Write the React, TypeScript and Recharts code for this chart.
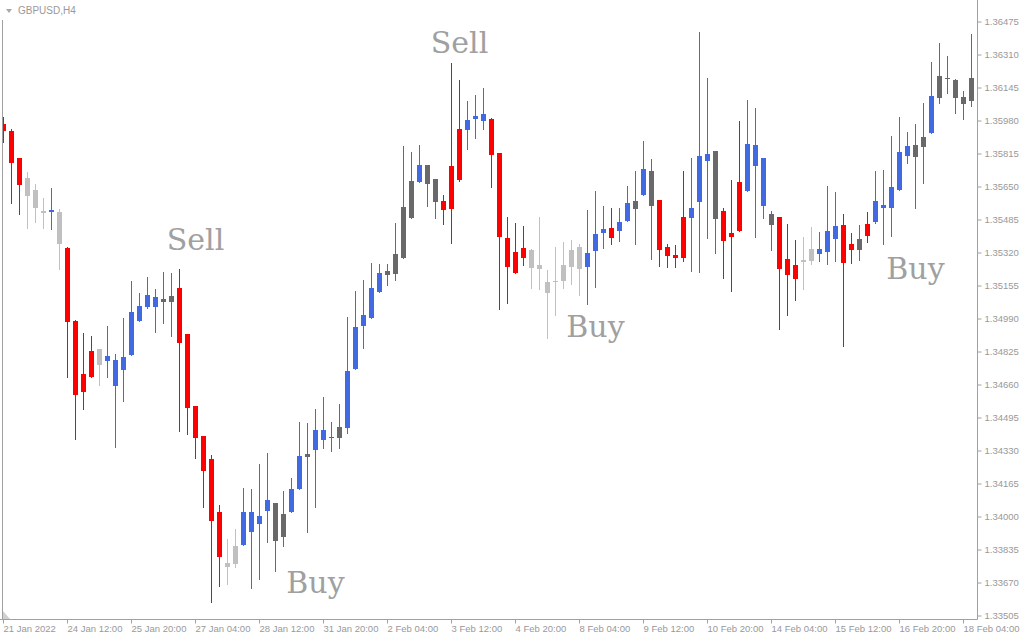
import React from 'react';
import { ComposedChart, Bar, XAxis, YAxis, ReferenceDot } from 'recharts';

// H4 candles, GBPUSD
const opens = [
  1.35965, 1.3593, 1.35795, 1.35695, 1.35635, 1.3553, 1.35525, 1.35525, 1.35345, 1.3498,
  1.34715, 1.3483, 1.3484, 1.3478, 1.34655, 1.34735, 1.3481, 1.3498, 1.3505, 1.3505,
  1.3509, 1.35105, 1.35145, 1.34915, 1.34555, 1.34405, 1.3429, 1.34025, 1.3377, 1.33855,
  1.3386, 1.33925, 1.33965, 1.3403, 1.3407, 1.34015, 1.34025, 1.3414, 1.34315, 1.34335,
  1.34385, 1.344, 1.3445, 1.34445, 1.3474, 1.34955, 1.34995, 1.35125, 1.3523, 1.35315,
  1.3555, 1.3568, 1.35675, 1.3576, 1.3569, 1.3558, 1.35755, 1.3594, 1.35935, 1.3599,
  1.3598, 1.3599, 1.3582, 1.35395, 1.35325, 1.35345, 1.35335, 1.3526, 1.35175, 1.3518,
  1.3526, 1.35335, 1.3535, 1.3525, 1.3533, 1.3542, 1.35445, 1.3543, 1.3548, 1.3558,
  1.3561, 1.3573, 1.35585, 1.3535, 1.3531, 1.355, 1.35495, 1.35575, 1.3578, 1.3583,
  1.3553, 1.3542, 1.35675, 1.3563, 1.35755, 1.35555, 1.35515, 1.355, 1.3529, 1.3526,
  1.35285, 1.3534, 1.35315, 1.35325, 1.3539, 1.3546, 1.35365, 1.3539, 1.35465, 1.35475,
  1.35545, 1.35545, 1.35635, 1.35805, 1.3586, 1.359, 1.3592, 1.36205, 1.36195, 1.36185,
  1.361, 1.36195,
];
const highs = [
  1.36, 1.3594, 1.35795, 1.35725, 1.35665, 1.35595, 1.35645, 1.3554, 1.3535, 1.34985,
  1.3492, 1.34905, 1.3484, 1.34955, 1.34815, 1.34995, 1.3518, 1.3512, 1.352, 1.3514,
  1.35225, 1.3522, 1.3524, 1.34915, 1.34555, 1.34405, 1.3431, 1.3406, 1.3389, 1.3394,
  1.34145, 1.3414, 1.34265, 1.3432, 1.3407, 1.3413, 1.34195, 1.34475, 1.3447, 1.3454,
  1.346, 1.34475, 1.34565, 1.35, 1.3513, 1.35185, 1.3527, 1.35265, 1.35265, 1.3547,
  1.35855, 1.35825, 1.3586, 1.3576, 1.3569, 1.3561, 1.3627, 1.36185, 1.3608, 1.3611,
  1.36145, 1.35995, 1.3582, 1.355, 1.3547, 1.35455, 1.3534, 1.355, 1.35235, 1.3535,
  1.35375, 1.35385, 1.35365, 1.35535, 1.3563, 1.35555, 1.35545, 1.35545, 1.35655, 1.3573,
  1.3588, 1.3579, 1.35585, 1.35365, 1.3536, 1.3573, 1.35795, 1.36425, 1.36195, 1.3583,
  1.35545, 1.35685, 1.3598, 1.36085, 1.36045, 1.35795, 1.3553, 1.355, 1.35465, 1.35385,
  1.354, 1.3545, 1.35425, 1.35655, 1.35625, 1.35515, 1.3542, 1.3546, 1.35525, 1.3573,
  1.35735, 1.35905, 1.36, 1.35925, 1.35965, 1.3607, 1.36275, 1.3637, 1.36305, 1.3619,
  1.3613, 1.36415,
];
const lows = [
  1.3587, 1.35565, 1.3551, 1.3544, 1.3547, 1.3544, 1.35435, 1.35235, 1.34695, 1.34385,
  1.34535, 1.34695, 1.34655, 1.34695, 1.34345, 1.34575, 1.34805, 1.34975, 1.3504, 1.3492,
  1.34965, 1.349, 1.34425, 1.3441, 1.3429, 1.34045, 1.3357, 1.3365, 1.3366, 1.33745,
  1.33855, 1.3364, 1.33685, 1.3387, 1.33725, 1.3385, 1.3402, 1.34135, 1.3392, 1.34045,
  1.3434, 1.34325, 1.3434, 1.34415, 1.34735, 1.3484, 1.3499, 1.3512, 1.35155, 1.3518,
  1.3529, 1.3549, 1.3567, 1.3555, 1.3549, 1.3546, 1.35365, 1.35675, 1.35835, 1.3589,
  1.35935, 1.35645, 1.35035, 1.35065, 1.35215, 1.35255, 1.3514, 1.35135, 1.3489, 1.35005,
  1.3514, 1.3516, 1.35105, 1.3506, 1.35145, 1.3534, 1.3536, 1.35375, 1.35475, 1.3536,
  1.35605, 1.35285, 1.3525, 1.35245, 1.35245, 1.35275, 1.35225, 1.3522, 1.3539, 1.35315,
  1.3519, 1.35125, 1.35425, 1.35625, 1.35395, 1.3549, 1.3533, 1.34935, 1.35005, 1.3508,
  1.35135, 1.3526, 1.35275, 1.3526, 1.35275, 1.3485, 1.35265, 1.3528, 1.3537, 1.35465,
  1.3536, 1.354, 1.3563, 1.35765, 1.3554, 1.35665, 1.35915, 1.36065, 1.36115, 1.36015,
  1.35985, 1.3605,
];
const closes = [
  1.3593, 1.3577, 1.3566, 1.35605, 1.35545, 1.3552, 1.35535, 1.35365, 1.34975, 1.3461,
  1.34625, 1.347, 1.3476, 1.34805, 1.34785, 1.348, 1.35025, 1.35055, 1.3511, 1.351,
  1.35075, 1.35075, 1.3487, 1.34545, 1.34395, 1.3423, 1.3398, 1.338, 1.3375, 1.33765,
  1.34025, 1.34025, 1.34005, 1.34085, 1.3388, 1.339, 1.3414, 1.34305, 1.343, 1.34435,
  1.34435, 1.34395, 1.34395, 1.3473, 1.3495, 1.3501, 1.35145, 1.3522, 1.3521, 1.35215,
  1.35295, 1.35495, 1.3576, 1.35665, 1.35575, 1.35535, 1.3554, 1.35685, 1.35985, 1.36005,
  1.36015, 1.3581, 1.354, 1.3525, 1.3522, 1.35295, 1.35245, 1.3524, 1.3512, 1.35175,
  1.3518, 1.3525, 1.3524, 1.3532, 1.35415, 1.3544, 1.35395, 1.35475, 1.3557, 1.3554,
  1.3574, 1.35555, 1.35335, 1.35305, 1.35295, 1.35295, 1.35545, 1.35805, 1.35815, 1.3549,
  1.3538, 1.354, 1.3543, 1.35865, 1.3586, 1.35795, 1.3546, 1.3524, 1.3521, 1.3519,
  1.35275, 1.3528, 1.3534, 1.3543, 1.35455, 1.3527, 1.35335, 1.35335, 1.35405, 1.3558,
  1.3556, 1.3565, 1.35825, 1.35855, 1.358, 1.3585, 1.36105, 1.36095, 1.3619, 1.36095,
  1.36065, 1.3608,
];
// r = strong down, b = up, d = weak, g = neutral
const candleKinds = (
  'rrrgggbgrr' + 'rrgbbbbbbb' + 'ddrrrrrrgg' + 'bbbbddbbdb' + 'bddbbbbbdd' +
  'ddbddrrrbb' + 'brrrrrgggg' + 'gggbbbrbbd' + 'bdrrrrbbbd' + 'rrrbbbdrrr' +
  'ggbbbrrdrb' + 'bbbbddbddd' + 'dd'
).split('');

const xTickLabels = [
  '21 Jan 2022', '24 Jan 12:00', '25 Jan 20:00', '27 Jan 04:00', '28 Jan 12:00', '31 Jan 20:00',
  '2 Feb 04:00', '3 Feb 12:00', '4 Feb 20:00', '8 Feb 04:00', '9 Feb 12:00', '10 Feb 20:00',
  '14 Feb 04:00', '15 Feb 12:00', '16 Feb 20:00', '18 Feb 04:00',
];
const yTicks = [
  1.33505, 1.3367, 1.33835, 1.34, 1.34165, 1.3433, 1.34495, 1.3466, 1.34825, 1.3499,
  1.35155, 1.3532, 1.35485, 1.3565, 1.35815, 1.3598, 1.36145, 1.3631, 1.36475,
];
const signalTexts = ['Sell', 'Sell', 'Buy', 'Buy', 'Buy'];
const signalIndex = [57, 24, 39, 74, 114];
const signalPrice = [1.3632, 1.35335, 1.3362, 1.349, 1.3519];

const COLORS: Record<string, string> = { r: '#ff0000', b: '#4169e1', d: '#696969', g: '#c0c0c0' };
const AXIS = '#a0a0a0';
const LABEL = '#999999';

const data = opens.map((o, i) => ({
  i,
  o,
  h: highs[i],
  l: lows[i],
  c: closes[i],
  k: candleKinds[i],
  range: [lows[i], highs[i]],
}));

const Candle = (props: any) => {
  const { x, y, width, height, payload } = props;
  if (!payload) return null;
  const { o, h, l, c, k } = payload;
  const color = COLORS[k];
  const cx = x + width / 2;
  const span = h - l;
  const toY = (v: number) => (span === 0 ? y : y + ((h - v) / span) * height);
  const top = toY(Math.max(o, c));
  let bot = toY(Math.min(o, c));
  if (bot - top < 1) bot = top + 1;
  return (
    <g>
      <rect x={cx - 0.5} y={y} width={1} height={Math.max(height, 1)} fill={color} />
      <rect x={cx - 2.5} y={top} width={5} height={bot - top} fill={color} />
    </g>
  );
};

const XTick = (props: any) => {
  const { x, y, payload } = props;
  const idx = Math.round(Number(payload.value) / 8);
  return (
    <text x={x} y={y} dy="0.71em" textAnchor="start" fill={LABEL} fontSize={9.5} fontFamily="Liberation Sans, Arial, sans-serif">
      {xTickLabels[idx]}
    </text>
  );
};

export default function App() {
  return (
    <div style={{ position: 'absolute', left: 0, top: 0, width: 1024, height: 640, background: '#ffffff' }}>
      <ComposedChart width={1024} height={640} data={data} margin={{ top: 0, right: 0, bottom: 0, left: -0.5 }} barCategoryGap={0}>
        <XAxis
          dataKey="i"
          type="category"
          interval={7}
          height={20.5}
          padding={{ left: 0, right: 2 }}
          tickSize={4}
          tickMargin={2}
          axisLine={{ stroke: AXIS }}
          tickLine={{ stroke: AXIS }}
          tick={<XTick />}
        />
        <YAxis
          orientation="right"
          width={46.5}
          type="number"
          domain={[1.334875, 1.36585]}
          allowDataOverflow
          ticks={yTicks}
          interval={0}
          tickSize={4}
          tickMargin={3}
          axisLine={{ stroke: AXIS }}
          tickLine={{ stroke: AXIS }}
          tickFormatter={(v: number) => v.toFixed(5)}
          tick={{ fill: LABEL, fontSize: 9.5, fontFamily: 'Liberation Sans, Arial, sans-serif' }}
        />
        <Bar dataKey="range" isAnimationActive={false} shape={<Candle />} />
        {signalTexts.map((t, k) => (
          <ReferenceDot
            key={k}
            x={signalIndex[k]}
            y={signalPrice[k]}
            r={0}
            isFront
            shape={(p: any) => (
              <text x={p.cx} y={p.cy} textAnchor="middle" fill="#a0a0a0" fontSize={30} fontFamily="DejaVu Serif, serif">
                {t}
              </text>
            )}
          />
        ))}
      </ComposedChart>
      <div style={{ position: 'absolute', left: 0, top: 20, width: 2, height: 599, background: '#ffffff' }} />
      <div style={{ position: 'absolute', left: 2, top: 20, width: 1, height: 600, background: AXIS }} />
      <svg style={{ position: 'absolute', left: 0, top: 0 }} width={20} height={20}>
        <polygon points="6,9 12,9 9,13" fill="#a8a8a8" />
      </svg>
      <svg style={{ position: 'absolute', left: 0, top: 608 }} width={12} height={12}>
        <polygon points="3,3 3,11 10,11" fill="#d0d0d0" />
      </svg>
      <div style={{ position: 'absolute', left: 18, top: 5, fontSize: 10, lineHeight: '12px', color: LABEL, fontFamily: 'Liberation Sans, Arial, sans-serif' }}>
        GBPUSD,H4
      </div>
    </div>
  );
}
